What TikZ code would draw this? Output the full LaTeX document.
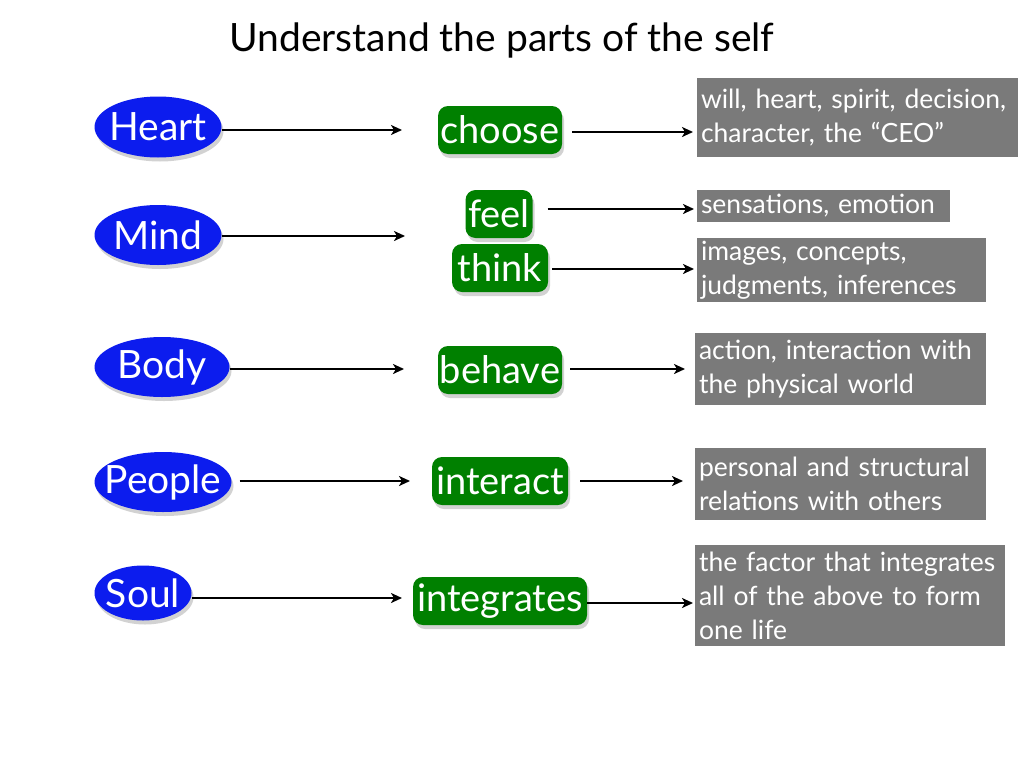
\documentclass[tikz,border=0pt]{standalone}
\usepackage{fontspec}
\setmainfont{Lato}
\usetikzlibrary{shapes.geometric,shadows,arrows.meta}
\definecolor{partblue}{RGB}{12,28,238}
\definecolor{verbgreen}{RGB}{0,128,0}
\definecolor{notegray}{RGB}{122,122,122}
\tikzset{
  part/.style={ellipse,fill=partblue,text=white,inner sep=0pt,
    font=\fontsize{39}{39}\selectfont,
    drop shadow={opacity=0.35,shadow xshift=2pt,shadow yshift=-4pt}},
  verb/.style={rounded corners=10pt,fill=verbgreen,text=white,inner sep=0pt,
    minimum height=48pt,font=\fontsize{38}{38}\selectfont,
    drop shadow={opacity=0.35,shadow xshift=2pt,shadow yshift=-4pt}},
  note/.style={fill=notegray,text=white,inner xsep=4pt,inner ysep=0pt,align=left,
    font=\fontsize{26.5}{34}\selectfont},
  link/.style={line width=2.2pt,-{Stealth[length=11pt,width=10pt,inset=3pt]}}
}
% text that does not widen its ellipse
\newcommand{\partlabel}[1]{\makebox[0pt]{#1}}
\begin{document}
\begin{tikzpicture}[x=1pt,y=-1pt]
\useasboundingbox[fill=white] (0,0) rectangle (1024,768);
\node[font=\fontsize{39}{39}\selectfont] (title) at (502,40) {Understand the parts of the self};

% parts of the self
\node[part,minimum width=127pt,minimum height=61pt] (heart) at (158,127) {\partlabel{Heart}};
\node[part,minimum width=127pt,minimum height=60pt] (mind) at (158,235) {\partlabel{Mind}};
\node[part,minimum width=135pt,minimum height=60pt] (body) at (162,367) {\partlabel{Body}};
\node[part,minimum width=137pt,minimum height=60pt] (people) at (163,482) {\partlabel{People}};
\node[part,minimum width=97pt,minimum height=55pt] (soul) at (143,593) {\partlabel{Soul}};

% what each part does
\node[verb,minimum width=124pt] (choose) at (500,130) {choose};
\node[verb,minimum width=67pt] (feel) at (499,214) {feel};
\node[verb,minimum width=96pt] (think) at (500,268) {think};
\node[verb,minimum width=124pt] (behave) at (500,370) {behave};
\node[verb,minimum width=136pt] (interact) at (500,481) {interact};
\node[verb,minimum width=174pt] (integrates) at (500,601) {integrates};

% descriptions
\node[note,text width=313pt,minimum height=79pt] (will) at (857.5,117.5)
  {will, heart, spirit, decision,\\character, the ``CEO''};
\node[note,text width=245pt,minimum height=32pt] (sens) at (823.5,206)
  {sensations, emotion};
\node[note,text width=281pt,minimum height=64pt] (imgs) at (841.5,270)
  {images, concepts,\\judgments, inferences};
\node[note,text width=283pt,minimum height=72pt] (act) at (840.5,369)
  {action, interaction with\\the physical world};
\node[note,text width=283pt,minimum height=72pt] (rel) at (840.5,484)
  {personal and structural\\relations with others};
\node[note,text width=302pt,minimum height=101pt] (fac) at (850,595.5)
  {the factor that integrates\\all of the above to form\\one life};

% free ends of the left arrows
\coordinate (heartend) at (402,130);
\coordinate (mindend) at (405,236);
\coordinate (bodyend) at (404,369);
\coordinate (peopleend) at (410,481);
\coordinate (soulend) at (402,598);

\draw[link] (heart.east |- heartend) -- (heartend);
\draw[link] (mind.east |- mindend) -- (mindend);
\draw[link] (body.east |- bodyend) -- (bodyend);
\draw[link] ([xshift=8pt]people.east |- peopleend) -- (peopleend);
\draw[link] (soul.east |- soulend) -- (soulend);

% free ends of the right arrows
\coordinate (chooseend) at (693,132);
\coordinate (feelend) at (694,209);
\coordinate (thinkend) at (694,269);
\coordinate (behaveend) at (685,369);
\coordinate (interactend) at (683,481);
\coordinate (integratesend) at (693,603);

\draw[link] ([xshift=10pt]choose.east |- chooseend) -- (chooseend);
\draw[link] ([xshift=15pt]feel.east |- feelend) -- (feelend);
\draw[link] ([xshift=4pt]think.east |- thinkend) -- (thinkend);
\draw[link] ([xshift=8pt]behave.east |- behaveend) -- (behaveend);
\draw[link] ([xshift=12pt]interact.east |- interactend) -- (interactend);
\draw[link] (integrates.east |- integratesend) -- (integratesend);
\end{tikzpicture}
\end{document}
